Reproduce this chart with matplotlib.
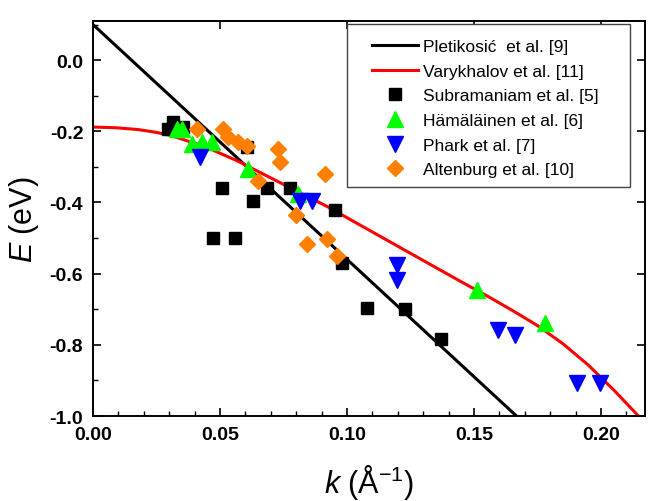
import matplotlib
matplotlib.use("Agg")
import matplotlib.pyplot as plt
from matplotlib.patches import Rectangle
import numpy as np

plt.rcParams['font.family'] = ['Liberation Sans', 'DejaVu Sans']
plt.rcParams['mathtext.fontset'] = 'custom'
plt.rcParams['mathtext.rm'] = 'Liberation Sans'
plt.rcParams['mathtext.it'] = 'Liberation Sans:italic'
plt.rcParams['axes.unicode_minus'] = False

# tick labels
xticks = [0.0, 0.05, 0.10, 0.15, 0.20]
xtick_labels = ['0.00', '0.05', '0.10', '0.15', '0.20']
yticks = [-1.0, -0.8, -0.6, -0.4, -0.2, 0.0]
ytick_labels = ['-1.0', '-0.8', '-0.6', '-0.4', '-0.2', '0.0']

# Pletikosic et al. [9] - linear dispersion
k_plet = [0.0, 0.1667]
E_plet = [0.10, -1.0]

# Varykhalov et al. [11] - curve
k_vary = [0.0, 0.009, 0.0177, 0.025, 0.0307, 0.0441, 0.0571, 0.0689, 0.0921,
          0.118, 0.136, 0.145, 0.155, 0.165, 0.175, 0.185, 0.195, 0.205, 0.2154]
E_vary = [-0.188, -0.190, -0.195, -0.203, -0.212, -0.243, -0.284, -0.327, -0.411,
          -0.515, -0.587, -0.623, -0.662, -0.703, -0.746, -0.797, -0.857, -0.927, -1.005]

# Subramaniam et al. [5]
k_sub = [0.0295, 0.0315, 0.0354, 0.0508, 0.063, 0.0472, 0.056, 0.0606,
         0.0685, 0.0776, 0.0953, 0.098, 0.108, 0.1228, 0.137]
E_sub = [-0.194, -0.175, -0.189, -0.358, -0.397, -0.499, -0.499, -0.245,
         -0.358, -0.358, -0.42, -0.569, -0.696, -0.70, -0.783]

# Hamalainen et al. [6]
k_ham = [0.033, 0.035, 0.039, 0.043, 0.047, 0.061, 0.0807, 0.151, 0.178]
E_ham = [-0.194, -0.194, -0.237, -0.231, -0.231, -0.307, -0.377, -0.645, -0.738]

# Phark et al. [7]
k_pha = [0.042, 0.0815, 0.0862, 0.1197, 0.1197, 0.1595, 0.166, 0.1906, 0.1996]
E_pha = [-0.273, -0.397, -0.397, -0.575, -0.617, -0.758, -0.772, -0.907, -0.907]

# Altenburg et al. [10]
k_alt = [0.041, 0.051, 0.053, 0.057, 0.0606, 0.065, 0.0728, 0.0736, 0.0913,
         0.080, 0.0843, 0.092, 0.096]
E_alt = [-0.194, -0.194, -0.217, -0.231, -0.242, -0.341, -0.251, -0.287, -0.321,
         -0.434, -0.518, -0.504, -0.549]

fig = plt.figure(figsize=(6.48, 5.02), dpi=100)
ax = fig.add_axes([93/648, 1-417/502, 552/648, 395/502])

ax.plot(k_plet, E_plet, color='black', lw=2.2, label='Pletikosić  et al. [9]')
ax.plot(k_vary, E_vary, color='#ff0000', lw=2.2, label='Varykhalov et al. [11]')
ax.plot(k_sub, E_sub, ls='none', marker='s', ms=9.3, color='black', label='Subramaniam et al. [5]')
ax.plot(k_ham, E_ham, ls='none', marker='^', ms=12, color='#00ff00', label='Hämäläinen et al. [6]')
ax.plot(k_pha, E_pha, ls='none', marker='v', ms=12, color='#0000ff', label='Phark et al. [7]')
ax.plot(k_alt, E_alt, ls='none', marker='D', ms=8.5, color='#ff8000', label='Altenburg et al. [10]')

ax.set_xlim(0, 0.2173)
ax.set_ylim(-1.0, 0.11)
ax.set_xticks(xticks)
ax.set_xticklabels(xtick_labels)
ax.set_xticks(np.arange(0, 0.217, 0.01), minor=True)
ax.set_yticks(yticks)
ax.set_yticklabels(ytick_labels)
ax.set_yticks(np.arange(-1.0, 0.11, 0.1), minor=True)

ax.tick_params(which='major', direction='in', length=6, width=1.2,
               top=True, right=True, labelsize=14, pad=7)
ax.tick_params(which='minor', direction='in', length=3.5, width=1.0)
for lab in ax.get_xticklabels() + ax.get_yticklabels():
    lab.set_fontweight('bold')
for sp in ax.spines.values():
    sp.set_linewidth(1.4)

ax.set_xlabel(r'$k$ (Å$^{-1}$)', fontsize=22, labelpad=14)
ax.set_ylabel(r'$E$ (eV)', fontsize=22, labelpad=6)

# legend box drawn separately so its padding can follow the original
ax.add_patch(Rectangle((0.460, 0.580), 0.513, 0.412, transform=ax.transAxes,
                       fill=True, facecolor='white', edgecolor='#444444', lw=1.0, zorder=5))
leg = ax.legend(loc='upper left', bbox_to_anchor=(0.5054, 0.955), borderaxespad=0,
                borderpad=0, fontsize=12.5, numpoints=1, handlelength=2.65,
                labelspacing=0.55, frameon=False, handletextpad=0.3)
leg.set_zorder(6)

fig.savefig('out.png', dpi=100)
